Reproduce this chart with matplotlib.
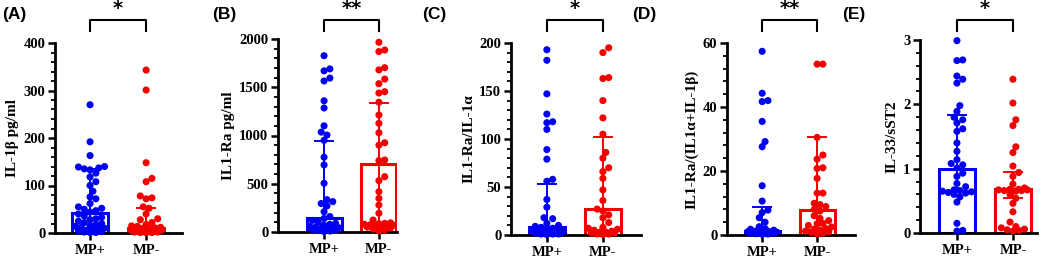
import matplotlib.pyplot as plt
import numpy as np
from matplotlib.ticker import MultipleLocator

groups = ['MP+', 'MP-']
panel_tags = ['(A)', '(B)', '(C)', '(D)', '(E)']
ylabels = ['IL-1β pg/ml', 'IL1-Ra pg/ml', 'IL1-Ra/IL-1α', 'IL1-Ra/(IL1α+IL-1β)', 'IL-33/sST2']
stars = ['*', '**', '*', '**', '*']

# (A) IL-1β
a_pos = [270, 192, 163, 140, 139, 137, 135, 133, 126, 118, 108, 100, 88, 76, 72, 62, 55, 52, 50, 47,
         44, 40, 36, 33, 30, 28, 25, 22, 20, 18, 16, 14, 12, 10, 8, 6, 5, 4, 3, 2, 1, 1]
a_neg = [343, 301, 148, 115, 108, 78, 74, 72, 55, 52, 40, 30, 28, 22, 18, 15, 14, 12, 11, 10, 9, 9,
         8, 7, 7, 6, 5, 5, 4, 4, 3, 3, 2, 2, 1, 1, 0.5]
# (B) IL1-Ra
b_pos = [1827, 1690, 1670, 1595, 1565, 1360, 1285, 1100, 1035, 1005, 950, 775, 695, 505, 335, 315, 295,
         270, 210, 160, 140, 120, 100, 90, 80, 70, 60, 50, 45, 40, 35, 30, 25, 20, 15, 10, 5]
b_neg = [1966, 1886, 1870, 1703, 1680, 1585, 1537, 1454, 1440, 1345, 1212, 1126, 1029, 925, 900, 746,
         740, 573, 532, 418, 349, 280, 194, 124, 95, 90, 85, 80, 75, 70, 65, 60, 55, 50, 40, 30, 20, 10]
# (C) IL1-Ra/IL-1α
c_pos = [193, 182, 147, 126, 118, 117, 110, 89, 79, 58, 56, 37, 29, 18, 17, 12, 10, 9, 8, 7, 6, 5, 5,
         4, 4, 3, 3, 2, 2, 1, 1, 1, 0.5]
c_neg = [195, 190, 164, 163, 140, 122, 105, 86, 80, 70, 66, 59, 47, 36, 27, 25, 21, 18, 13, 8, 7, 6, 5,
         4, 3, 3, 2, 2, 1, 1, 0.5]
# (D) IL1-Ra/(IL1α+IL-1β)
d_pos = [57.4, 44.3, 42, 41.7, 35.5, 29.2, 27.6, 15.4, 10.6, 7.8, 7, 5.4, 4, 2.6, 2, 1.8, 1.5, 1.3, 1.2,
         1.1, 1.0, 0.9, 0.8, 0.8, 0.7, 0.6, 0.5, 0.5, 0.4, 0.3, 0.2]
d_neg = [53.4, 53.4, 30.5, 25, 23.7, 21, 20.8, 17.7, 13.1, 13.1, 9.9, 9.5, 8.9, 8, 7.5, 6, 5.2, 4.5,
         3.6, 3.5, 3, 2.5, 2, 1.8, 1.5, 1.2, 1, 0.8, 0.5, 0.3]
# (E) IL-33/sST2
e_pos = [2.99, 2.69, 2.68, 2.44, 2.39, 2.33, 1.98, 1.89, 1.80, 1.76, 1.71, 1.62, 1.58, 1.40, 1.27, 1.14,
         1.08, 1.06, 1.01, 0.93, 0.88, 0.77, 0.72, 0.67, 0.66, 0.65, 0.64, 0.63, 0.62, 0.60, 0.56, 0.48,
         0.15, 0.04, 0.03]
e_neg = [2.39, 2.02, 1.76, 1.67, 1.34, 1.25, 1.04, 0.94, 0.88, 0.76, 0.70, 0.68, 0.68, 0.67, 0.67, 0.66,
         0.66, 0.65, 0.60, 0.54, 0.46, 0.33, 0.17, 0.10, 0.08, 0.06, 0.05, 0.04, 0.03]

points = [(a_pos, a_neg), (b_pos, b_neg), (c_pos, c_neg), (d_pos, d_neg), (e_pos, e_neg)]
# bar = median, error = interquartile range
medians = [(43, 10), (150, 700), (8, 27), (1.2, 7.8), (1.0, 0.68)]
q_low = [(10, 3), (40, 80), (2, 3), (0.5, 1.5), (0.65, 0.54)]
q_high = [(135, 52), (945, 1340), (53, 102), (8.8, 30.5), (1.83, 0.95)]

ymax = [400, 2000, 200, 60, 3]
ymajor = [100, 500, 50, 20, 1]
yminor = [20, 100, 10, 4, 0.2]

# axes boxes in pixels: left, right, top, bottom
boxes = [(55, 182, 43, 233), (278, 397, 39, 232), (511, 641, 43, 235),
         (727, 855, 43, 235), (920, 1037, 40, 233)]
xlims = [(-0.625, 1.64), (-0.84, 1.33), (-0.64, 1.68), (-0.64, 1.69), (-0.66, 1.43)]

colors = ['#0000f5', '#f50000']
W, H = 1052, 259


def swarm(vals, px_per_unit, px_per_x, dot=5.8, maxoff=0.31):
    # simple deterministic beeswarm in pixel space
    order = np.argsort(vals)
    placed = []
    offs = np.zeros(len(vals))
    cands = [0]
    for k in range(1, 12):
        cands += [k * dot * 0.5, -k * dot * 0.5]
    for i in order:
        y = vals[i] * px_per_unit
        best, best_d = None, -1
        for c in cands:
            if abs(c) / px_per_x > maxoff:
                continue
            dmin = min([np.hypot(c - px, y - py) for px, py in placed] or [99])
            if dmin >= dot:
                best = c
                break
            if dmin > best_d:
                best_d, best = dmin, c
        offs[i] = best / px_per_x
        placed.append((best, y))
    return offs


fig = plt.figure(figsize=(W / 100, H / 100), dpi=100)
serif = 'Liberation Serif'

for p in range(5):
    l, r, t, b = boxes[p]
    ax = fig.add_axes([l / W, (H - b) / H, (r - l) / W, (b - t) / H])
    x0, x1 = xlims[p]
    px_per_x = (r - l) / (x1 - x0)
    px_per_unit = (b - t) / ymax[p]

    for g in range(2):
        c = colors[g]
        ax.bar(g, medians[p][g], width=0.64, facecolor='white', edgecolor=c, linewidth=2.2, zorder=1)
        vals = np.array(points[p][g], dtype=float)
        xo = swarm(vals, px_per_unit, px_per_x)
        ax.scatter(g + xo, vals, s=26, color=c, edgecolors='none', zorder=3, clip_on=False)
        m = medians[p][g]
        ax.errorbar(g, m, yerr=[[m - q_low[p][g]], [q_high[p][g] - m]], color=c, elinewidth=1.4,
                    capsize=7, capthick=1.4, zorder=4)

    ax.set_xlim(x0, x1)
    ax.set_ylim(0, ymax[p])
    ax.yaxis.set_major_locator(MultipleLocator(ymajor[p]))
    ax.yaxis.set_minor_locator(MultipleLocator(yminor[p]))
    ax.yaxis.set_major_formatter(lambda v, pos: f'{v:g}')
    ax.set_xticks([0, 1])
    ax.set_xticklabels(groups)
    for s in ['top', 'right']:
        ax.spines[s].set_visible(False)
    for s in ['left', 'bottom']:
        ax.spines[s].set_linewidth(2)
    ax.tick_params(axis='y', which='major', length=5, width=1.8, pad=2)
    ax.tick_params(axis='y', which='minor', length=3, width=1.3)
    ax.tick_params(axis='x', length=5, width=1.8, pad=3)
    for lab in ax.get_xticklabels() + ax.get_yticklabels():
        lab.set_fontfamily(serif)
        lab.set_fontweight('bold')
        lab.set_fontsize(10.5)
    ax.set_ylabel(ylabels[p], fontfamily=serif, fontweight='bold', fontsize=11, labelpad=3)

    # significance bracket
    hb = b - t
    ytop = (b - 20) / hb
    ybot = (b - 31) / hb
    ax.plot([0, 0, 1, 1], [ybot, ytop, ytop, ybot], color='black', lw=1.5,
            transform=ax.get_xaxis_transform(), clip_on=False)
    ax.text(0.5, ytop + 0.01, stars[p], transform=ax.get_xaxis_transform(), ha='center', va='bottom',
            fontsize=14, fontweight='bold', family='DejaVu Sans')

    # panel tag
    fig.text((p * 210 + 2) / W, 1 - 15 / H, panel_tags[p], fontsize=12.5, fontweight='bold',
             family='Liberation Sans', va='center', ha='left')

fig.savefig('out.png', dpi=100)
